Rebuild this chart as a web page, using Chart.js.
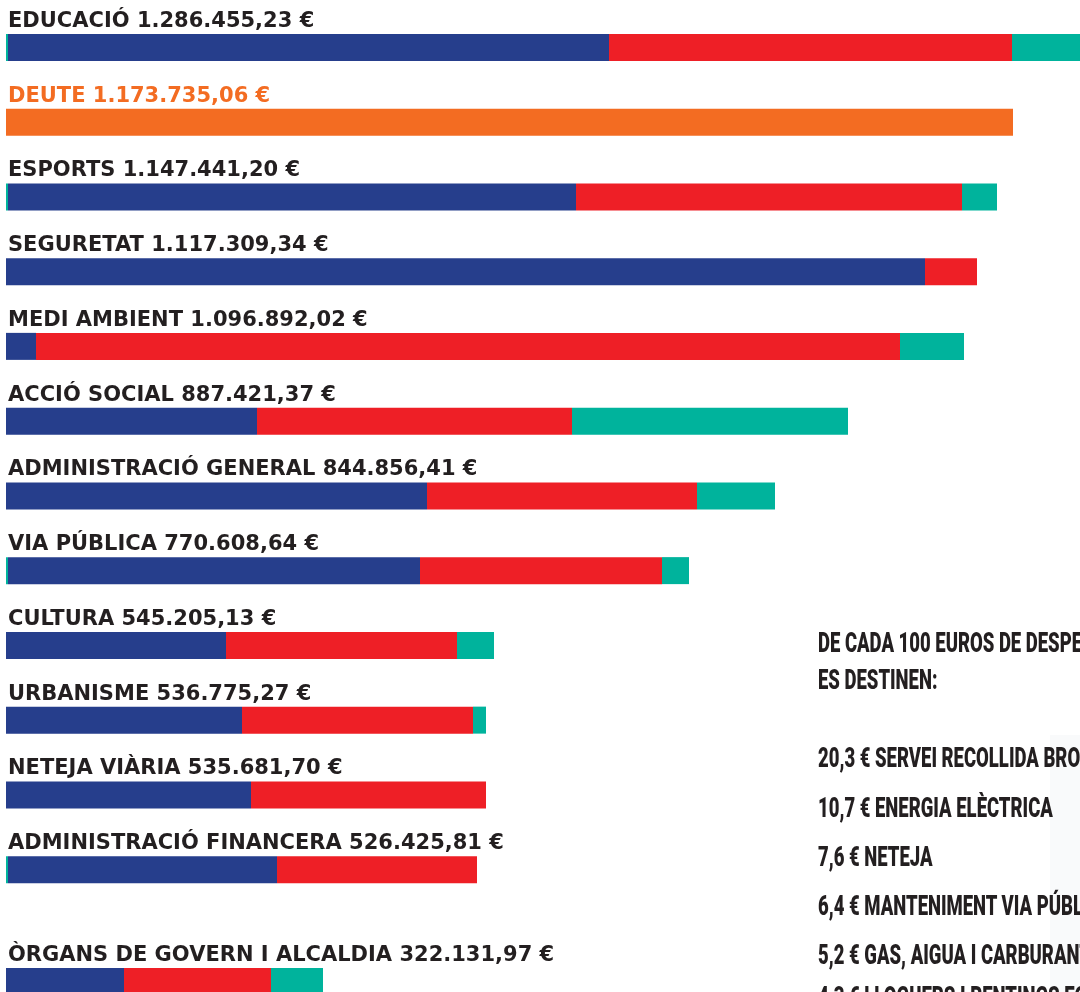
<!DOCTYPE html>
<html>
<head>
<meta charset="utf-8">
<script src="https://cdn.jsdelivr.net/npm/chart.js@4.4.1/dist/chart.umd.min.js"></script>
<style>
  html, body { margin: 0; padding: 0; background: #fff; }
  body { width: 1080px; height: 992px; overflow: hidden; position: relative; }
  .caixa { position: absolute; left: 0; width: 1080px; }
  #caixa-1 { top: 0; height: 992px; }
  #caixa-2 { top: 920px; height: 99px; }
  #fons { position: absolute; left: 1050px; top: 735px; width: 40px; height: 260px; background: #f9fafb; }
  #destins { position: absolute; left: 818px; top: 0; }
  #destins div {
    position: absolute; left: 0; white-space: nowrap;
    font-family: Roboto, "Liberation Sans Narrow", sans-serif; font-weight: 900;
    font-size: 28px; line-height: 28px; color: #231f20;
    transform-origin: 0 0; transform: scaleX(0.66);
  }
</style>
</head>
<body>
<div id="fons"></div>
<div class="caixa" id="caixa-1"><canvas id="grafic-1"></canvas></div>
<div class="caixa" id="caixa-2"><canvas id="grafic-2"></canvas></div>
<div id="destins"></div>
<script>
// Àrees de despesa (ordre del gràfic)
const arees = ['EDUCACIÓ', 'DEUTE', 'ESPORTS', 'SEGURETAT', 'MEDI AMBIENT', 'ACCIÓ SOCIAL',
  'ADMINISTRACIÓ GENERAL', 'VIA PÚBLICA', 'CULTURA', 'URBANISME', 'NETEJA VIÀRIA',
  'ADMINISTRACIÓ FINANCERA', 'ÒRGANS DE GOVERN I ALCALDIA'];
const imports = [1286455.23, 1173735.06, 1147441.20, 1117309.34, 1096892.02, 887421.37,
  844856.41, 770608.64, 545205.13, 536775.27, 535681.70, 526425.81, 322131.97];

// Longitud de cada tram de la barra (llegida de la imatge)
const tramPrevi    = [2,   0,    2,   0,   0,   0,   0,   2,   0,   0,   0,   2,   0];
const tramBlau     = [601, 0,    568, 919, 30,  251, 421, 412, 220, 236, 245, 269, 118];
const tramVermell  = [403, 0,    386, 52,  864, 315, 270, 242, 231, 231, 235, 200, 147];
const tramVerd     = [100, 0,    35,  0,   64,  276, 78,  27,  37,  13,  0,   0,   52];
const tramTaronja  = [0,   1007, 0,   0,   0,   0,   0,   0,   0,   0,   0,   0,   0];
const escalaMax = 1074;

// Text de la dreta
const destinsTitol = ['DE CADA 100 EUROS DE DESPESA CORRENT', 'ES DESTINEN:'];
const destinsValors = ['20,3', '10,7', '7,6', '6,4', '5,2', '4,3'];
const destinsConceptes = ['SERVEI RECOLLIDA BROSSA', 'ENERGIA ELÈCTRICA', 'NETEJA',
  'MANTENIMENT VIA PÚBLICA', 'GAS, AIGUA I CARBURANTS', 'LLOGUERS I RENTINGS EQUIPS'];

const colors = {
  blau: '#263e8c',
  vermell: '#ee1f26',
  verd: '#00b39c',
  taronja: '#f36c22',
  text: '#231f20'
};

// Format català: 1.286.455,23 €
function formatEuros(n) {
  const parts = n.toFixed(2).split('.');
  const enter = parts[0].replace(/\B(?=(\d{3})+(?!\d))/g, '.');
  return enter + ',' + parts[1] + ' €';
}

// Plugin per escriure el nom i l'import damunt de cada barra
const etiquetes = {
  id: 'etiquetes',
  afterDatasetsDraw(chart, args, opts) {
    const ctx = chart.ctx;
    const y = chart.scales.y;
    const taronja = chart.data.datasets[4].data;
    ctx.save();
    ctx.font = 'bold 21px "DejaVu Sans"';
    ctx.textBaseline = 'alphabetic';
    chart.data.labels.forEach((nom, i) => {
      const centre = y.getPixelForValue(i);
      ctx.fillStyle = taronja[i] > 0 ? colors.taronja : colors.text;
      ctx.fillText(nom + ' ' + formatEuros(opts.imports[i]), chart.chartArea.left + 2, centre - 13.5 - 7);
    });
    ctx.restore();
  }
};

function dibuixarBarres(canvasId, desde, fins, padding) {
  const tros = arr => arr.slice(desde, fins);
  const ds = (label, data, color) => ({
    label: label, data: tros(data), backgroundColor: color,
    borderWidth: 0, inflateAmount: 0, barThickness: 27, stack: 'total'
  });
  return new Chart(document.getElementById(canvasId), {
    type: 'bar',
    data: {
      labels: tros(arees),
      datasets: [
        ds('Altres', tramPrevi, colors.verd),
        ds('Personal', tramBlau, colors.blau),
        ds('Béns i serveis', tramVermell, colors.vermell),
        ds('Inversions', tramVerd, colors.verd),
        ds('Deute', tramTaronja, colors.taronja)
      ]
    },
    options: {
      indexAxis: 'y',
      responsive: true,
      maintainAspectRatio: false,
      animation: false,
      layout: { padding: padding },
      plugins: {
        legend: { display: false },
        tooltip: { enabled: false },
        etiquetes: { imports: tros(imports) }
      },
      scales: {
        x: { stacked: true, display: false, min: 0, max: escalaMax },
        y: { stacked: true, display: false }
      }
    },
    plugins: [etiquetes]
  });
}

dibuixarBarres('grafic-1', 0, 12, { top: 10, bottom: 85, left: 6, right: 0 });
dibuixarBarres('grafic-2', 12, 13, { top: 24, bottom: 0, left: 6, right: 0 });

// Bloc de text de la dreta
const destins = document.getElementById('destins');
const linies = destinsTitol.concat(destinsValors.map((v, i) => v + ' € ' + destinsConceptes[i]));
const capTops = [633, 670, 748, 798, 847, 896, 945, 987];
linies.forEach((t, i) => {
  const d = document.createElement('div');
  d.textContent = t;
  d.style.top = (capTops[i] - 4) + 'px';
  destins.appendChild(d);
});
</script>
</body>
</html>
